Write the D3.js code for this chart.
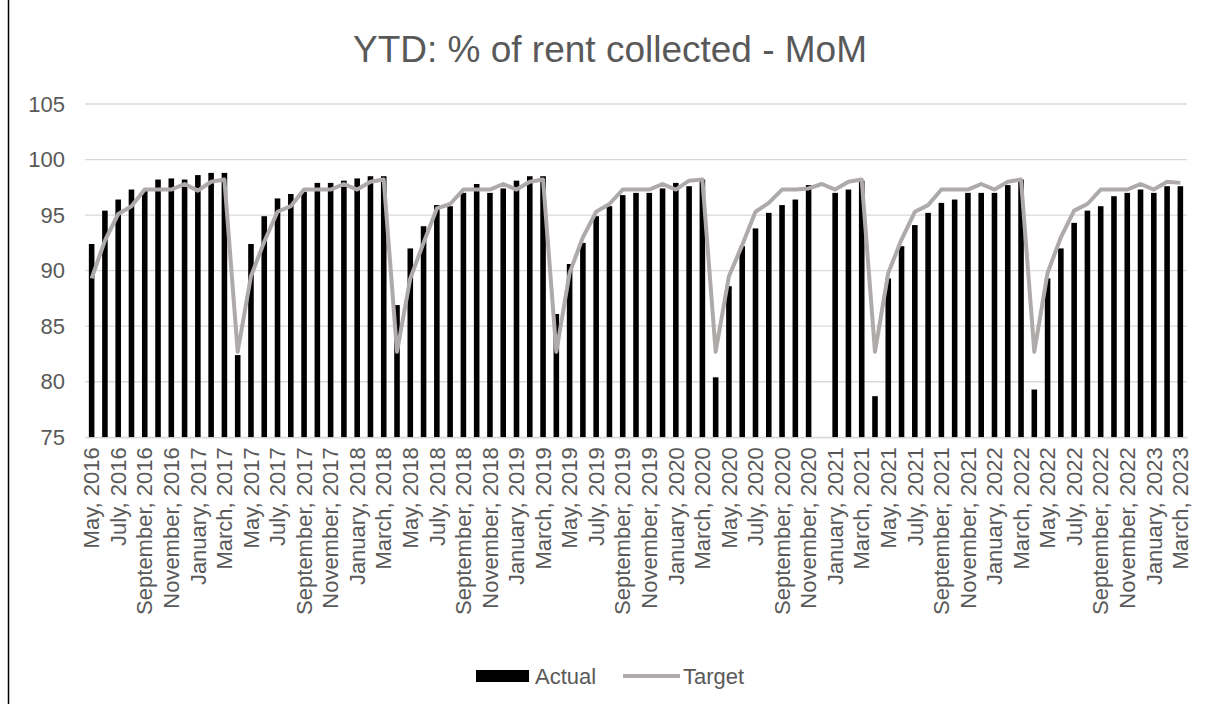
<!DOCTYPE html>
<html>
<head>
<meta charset="utf-8">
<script src="https://cdn.jsdelivr.net/npm/d3@7"></script>
<style>
  body { margin: 0; background: #fff; }
  text { font-family: "Liberation Sans", Arial, sans-serif; fill: #595959; }
</style>
</head>
<body>
<svg id="chart"></svg>
<script>
const monthNames = ['January', 'February', 'March', 'April', 'May', 'June',
  'July', 'August', 'September', 'October', 'November', 'December'];

// May 2016 .. March 2023
const categories = [];
for (let y = 2016, m = 4; y < 2023 || m <= 2; m++) {
  if (m > 11) { m = 0; y++; }
  categories.push(`${monthNames[m]}, ${y}`);
}

const actual = [
  92.4, 95.4, 96.4, 97.3, 97.2, 98.2, 98.3, 98.2, 98.6, 98.8, 98.8,
  82.4, 92.4, 94.9, 96.5, 96.9, 97.1, 97.9, 97.9, 98.1, 98.3, 98.5, 98.5,
  86.9, 92.0, 94.0, 95.9, 95.8, 97.0, 97.8, 97.0, 97.4, 98.1, 98.5, 98.5,
  86.1, 90.6, 92.5, 94.9, 95.8, 96.8, 97.0, 97.0, 97.4, 97.9, 97.6, 98.2,
  80.4, 88.6, 92.2, 93.8, 95.2, 95.9, 96.4, 97.7, null, 97.0, 97.3, 98.1,
  78.7, 89.3, 92.2, 94.1, 95.2, 96.1, 96.4, 97.0, 97.0, 97.0, 97.7, 98.2,
  79.3, 89.3, 92.0, 94.3, 95.4, 95.8, 96.7, 97.0, 97.3, 97.0, 97.6, 97.6
];

const target = [
  89.3, 92.7, 95.1, 95.8, 97.3, 97.3, 97.3, 97.8, 97.2, 98.0, 98.2,
  82.7, 89.5, 92.6, 95.3, 95.8, 97.3, 97.3, 97.3, 97.8, 97.3, 98.0, 98.2,
  82.7, 89.3, 92.5, 95.6, 96.0, 97.3, 97.3, 97.3, 97.8, 97.3, 98.0, 98.2,
  82.7, 89.8, 93.0, 95.3, 96.0, 97.3, 97.3, 97.3, 97.8, 97.3, 98.1, 98.2,
  82.7, 89.5, 92.3, 95.3, 96.1, 97.3, 97.3, 97.4, 97.8, 97.3, 98.0, 98.2,
  82.7, 89.8, 92.8, 95.3, 95.9, 97.3, 97.3, 97.3, 97.8, 97.3, 98.0, 98.2,
  82.7, 89.8, 93.0, 95.4, 96.0, 97.3, 97.3, 97.3, 97.8, 97.3, 98.0, 97.9
];

const yTicks = [75, 80, 85, 90, 95, 100, 105];
const seriesNames = ['Actual', 'Target'];

const width = 1206, height = 709;
const plot = {left: 85, right: 1187, top: 104, bottom: 437.3};

const svg = d3.select('#chart')
  .attr('width', width)
  .attr('height', height);

// left frame edge from the source screenshot
svg.append('line')
  .attr('x1', 8.5).attr('x2', 8.5)
  .attr('y1', 0).attr('y2', 704)
  .attr('stroke', '#000')
  .attr('stroke-width', 1.5);

const x = d3.scaleBand()
  .domain(categories)
  .range([plot.left, plot.right]);

const y = d3.scaleLinear()
  .domain([75, 105])
  .range([plot.bottom, plot.top]);

svg.append('text')
  .attr('x', 610)
  .attr('y', 62)
  .attr('text-anchor', 'middle')
  .style('font-size', '37px')
  .text('YTD: % of rent collected - MoM');

// gridlines
svg.append('g')
  .selectAll('line')
  .data(yTicks)
  .enter()
  .append('line')
  .attr('x1', plot.left)
  .attr('x2', plot.right)
  .attr('y1', d => y(d))
  .attr('y2', d => y(d))
  .attr('stroke', '#d9d9d9')
  .attr('stroke-width', 1.3);

const yAxis = d3.axisLeft(y)
  .tickValues(yTicks)
  .tickSize(0)
  .tickPadding(20);
svg.append('g')
  .attr('transform', `translate(${plot.left}, 0)`)
  .call(yAxis)
  .call(g => g.select('.domain').remove())
  .selectAll('text')
  .style('font-size', '22px')
  .style('font-family', '"Liberation Sans", Arial, sans-serif')
  .attr('fill', '#595959');

const barWidth = x.bandwidth() * 0.42;
svg.append('g')
  .selectAll('rect')
  .data(categories.map((c, i) => ({c: c, v: actual[i]})).filter(d => d.v != null))
  .enter()
  .append('rect')
  .attr('x', d => x(d.c) + x.bandwidth() / 2 - barWidth / 2)
  .attr('y', d => y(d.v))
  .attr('width', barWidth)
  .attr('height', d => y(75) - y(d.v))
  .attr('fill', '#000');

const line = d3.line()
  .x((d, i) => x(categories[i]) + x.bandwidth() / 2)
  .y(d => y(d));

svg.append('path')
  .datum(target)
  .attr('d', line)
  .attr('fill', 'none')
  .attr('stroke', '#aeaaaa')
  .attr('stroke-width', 4)
  .attr('stroke-linejoin', 'round');

const xAxis = d3.axisBottom(x)
  .tickValues(categories.filter((c, i) => i % 2 == 0))
  .tickSize(0)
  .tickPadding(0);
svg.append('g')
  .attr('transform', `translate(0, ${plot.bottom})`)
  .call(xAxis)
  .call(g => g.select('.domain')
    .attr('stroke', '#d9d9d9')
    .attr('stroke-width', 1.3))
  .selectAll('text')
  .style('font-size', '22px')
  .style('font-family', '"Liberation Sans", Arial, sans-serif')
  .attr('fill', '#595959')
  .attr('text-anchor', 'end')
  .attr('transform', 'translate(0, 10) rotate(-90)')
  .attr('x', 0)
  .attr('y', 0)
  .attr('dy', '0.35em');

// legend
const legend = svg.append('g');
legend.append('rect')
  .attr('x', 476).attr('y', 670)
  .attr('width', 53).attr('height', 12)
  .attr('fill', '#000');
legend.append('text')
  .attr('x', 535).attr('y', 684)
  .style('font-size', '22px')
  .text(seriesNames[0]);
legend.append('line')
  .attr('x1', 623).attr('x2', 680)
  .attr('y1', 676).attr('y2', 676)
  .attr('stroke', '#aeaaaa')
  .attr('stroke-width', 4);
legend.append('text')
  .attr('x', 683).attr('y', 684)
  .style('font-size', '22px')
  .text(seriesNames[1]);
</script>
</body>
</html>
